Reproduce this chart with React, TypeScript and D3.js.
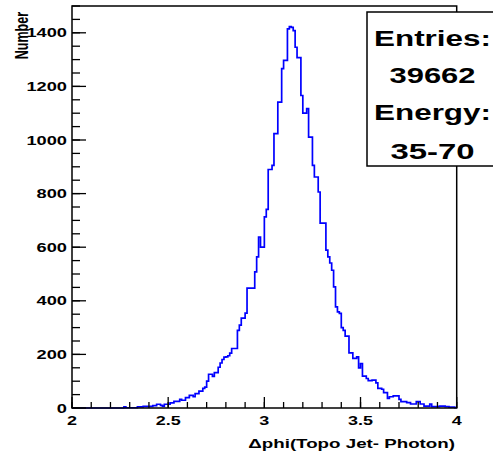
import React from "react";
import * as d3 from "d3";

// histogram: 200 bins from 2 to 4
const binLow = 2;
const binHigh = 4;
const counts = [
  0, 0, 0, 0, 0, 0, 0, 0, 0, 0,
  0, 0, 0, 0, 0, 0, 0, 0, 0, 0,
  0, 0, 0, 0, 0, 0, 0, 4, 1, 1,
  1, 1, 1, 1, 4, 4, 4, 6, 6, 6,
  6, 6, 9, 9, 14, 14, 10, 7, 14, 14,
  14, 19, 19, 25, 25, 25, 32, 29, 29, 39,
  39, 47, 47, 42, 54, 54, 63, 63, 73, 78,
  100, 126, 126, 118, 132, 132, 152, 168, 181, 190,
  191, 195, 205, 222, 222, 222, 290, 309, 335, 335,
  354, 447, 447, 447, 447, 508, 564, 638, 600, 600,
  713, 741, 890, 890, 905, 1024, 1024, 1141, 1141, 1266,
  1297, 1297, 1415, 1423, 1420, 1408, 1346, 1307, 1307, 1166,
  1100, 1100, 1117, 1011, 1011, 905, 862, 862, 806, 690,
  690, 690, 589, 564, 541, 514, 452, 377, 359, 353,
  300, 290, 268, 268, 206, 206, 185, 185, 191, 150,
  166, 119, 119, 110, 102, 102, 104, 104, 94, 73,
  73, 70, 57, 57, 36, 42, 42, 45, 45, 45,
  32, 24, 24, 24, 20, 20, 15, 15, 15, 24,
  24, 15, 15, 7, 7, 7, 15, 5, 5, 5,
  5, 7, 7, 7, 5, 5, 3, 3, 3, 1,
];

const xMajorTicks = [2, 2.5, 3, 3.5, 4];
const xTickLabels = ["2", "2.5", "3", "3.5", "4"];
const yMajorTicks = [0, 200, 400, 600, 800, 1000, 1200, 1400];
const yTickLabels = ["0", "200", "400", "600", "800", "1000", "1200", "1400"];
const statsLines = ["Entries:", "39662", "Energy:", "35-70"];

const FONT = "Liberation Sans, Arial, Helvetica, sans-serif";

const SText = ({ x, y, sx = 1.45, anchor = "middle", size = 12.5, children }) => (
  <text
    transform={`translate(${x},${y}) scale(${sx},1)`}
    textAnchor={anchor}
    fontSize={size}
    fontWeight="bold"
    fontFamily={FONT}
    fill="black"
  >
    {children}
  </text>
);

export default function App() {
  const width = 493;
  const height = 454;

  const xScale = d3.scaleLinear().domain([binLow, binHigh]).range([72, 456.7]);
  const yScale = d3.scaleLinear().domain([0, 1500]).range([408, 6]);

  const binWidth = (binHigh - binLow) / counts.length;
  const pts = counts.map((c, i) => [binLow + i * binWidth, c]);
  pts.push([binHigh, counts[counts.length - 1]]);

  const line = d3
    .line()
    .x((d) => xScale(d[0]))
    .y((d) => yScale(d[1]))
    .curve(d3.curveStepAfter);

  const xMinor = d3.range(0, 21).map((i) => binLow + i * 0.1);
  const yMinor = d3.range(0, 31).map((i) => i * 50);

  const [x0, x1] = xScale.range();
  const [yb, yt] = yScale.range();

  return (
    <svg
      width={width}
      height={height}
      style={{ position: "absolute", left: 0, top: 0, background: "white" }}
    >
      {/* histogram */}
      <path d={line(pts)} fill="none" stroke="#0000ff" strokeWidth={1.7} />

      {/* frame */}
      <rect
        x={x0}
        y={yt}
        width={x1 - x0}
        height={yb - yt}
        fill="none"
        stroke="black"
        strokeWidth={1.5}
      />

      {/* x ticks */}
      {xMinor.map((t, i) => (
        <line key={"xm" + i} x1={xScale(t)} x2={xScale(t)} y1={yb} y2={yb - 6} stroke="black" strokeWidth={1.3} />
      ))}
      {xMajorTicks.map((t, i) => (
        <line key={"xM" + i} x1={xScale(t)} x2={xScale(t)} y1={yb} y2={yb - 11} stroke="black" strokeWidth={1.3} />
      ))}
      {xMajorTicks.map((t, i) => (
        <SText key={"xl" + i} x={xScale(t)} y={425} sx={1.44}>
          {xTickLabels[i]}
        </SText>
      ))}

      {/* y ticks */}
      {yMinor.map((t, i) => (
        <line key={"ym" + i} x1={x0} x2={x0 + 8} y1={yScale(t)} y2={yScale(t)} stroke="black" strokeWidth={1.3} />
      ))}
      {yMajorTicks.map((t, i) => (
        <line key={"yM" + i} x1={x0} x2={x0 + 14} y1={yScale(t)} y2={yScale(t)} stroke="black" strokeWidth={1.3} />
      ))}
      {yMajorTicks.map((t, i) => (
        <SText key={"yl" + i} x={67} y={yScale(t) + 4.5} anchor="end" sx={1.46}>
          {yTickLabels[i]}
        </SText>
      ))}

      {/* axis titles */}
      <SText x={455} y={448} anchor="end" sx={1.5}>
        Δphi(Topo Jet- Photon)
      </SText>
      <text
        transform="translate(28,12) rotate(-90) scale(1,1.4)"
        textAnchor="end"
        fontSize={12.5}
        fontWeight="bold"
        fontFamily={FONT}
      >
        Number
      </text>

      {/* stats box */}
      <rect x={367} y={12} width={140} height={154} fill="white" stroke="black" strokeWidth={1.5} />
      {statsLines.map((s, i) => (
        <text
          key={"st" + i}
          x={432.5}
          y={[46, 83, 120, 159][i]}
          textAnchor="middle"
          fontSize={22.5}
          fontWeight="bold"
          fontFamily={FONT}
          textLength={[117, 86, 117, 84][i]}
          lengthAdjust="spacingAndGlyphs"
        >
          {s}
        </text>
      ))}
    </svg>
  );
}
